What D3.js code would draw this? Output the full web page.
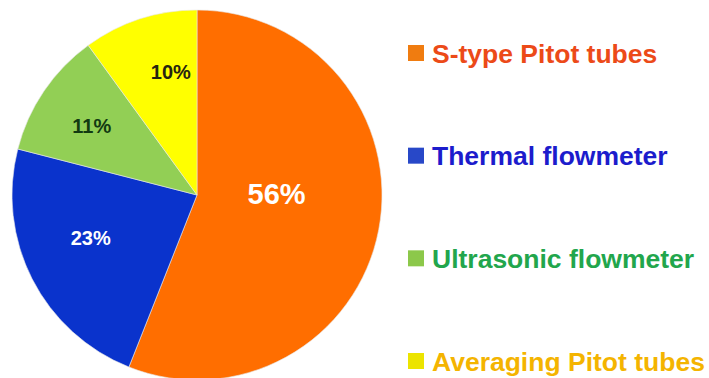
<!DOCTYPE html>
<meta charset="utf-8">
<style>
* { margin: 0; padding: 0; }
body { background: #fff; }
text { font-family: "Liberation Sans", Arial, sans-serif; font-weight: bold; }
</style>
<body>
<script src="https://cdn.jsdelivr.net/npm/d3@7/dist/d3.min.js"></script>
<script>

var categories = ["S-type Pitot tubes", "Thermal flowmeter", "Ultrasonic flowmeter", "Averaging Pitot tubes"];
var values = [56, 23, 11, 10];
var labels = ["56%", "23%", "11%", "10%"];
var sliceColors = ["#ff6e00", "#0a33cc", "#92cf55", "#ffff00"];
var labelColors = ["#fff", "#fff", "#123a12", "#262410"];
var labelSizes = [29, 20, 20, 20];
var legendText = ["#ec4a18", "#1c1ccc", "#22a64c", "#f4b400"];
var legendBox = ["#f07c10", "#2848c8", "#8cc84a", "#ece400"];

var width = 709, height = 378,
    cx = 197, cy = 195, radius = 185;

var svg = d3.select("body").append("svg")
    .attr("width", width)
    .attr("height", height);

var pie = d3.pie().sort(null).value(function(d) { return d; });
var arc = d3.arc().innerRadius(0).outerRadius(radius);

var data = pie(values);

var g = svg.append("g").attr("transform", "translate(" + cx + "," + cy + ")");

g.selectAll("path")
    .data(data)
    .enter().append("path")
    .attr("d", arc)
    .attr("fill", function(d, i) { return sliceColors[i]; })
    .attr("stroke", "#e8e8e8")
    .attr("stroke-width", 0.6);

// label placement: fraction of radius, and a small angle nudge (degrees)
var labelR = [0.43, 0.62, 0.68, 0.68];
var labelNudge = [-12, 5, -1, 6];
g.selectAll("text")
    .data(data)
    .enter().append("text")
    .attr("transform", function(d, i) {
        var a = (d.startAngle + d.endAngle) / 2 + labelNudge[i] * Math.PI / 180;
        var r = radius * labelR[i];
        return "translate(" + (Math.sin(a) * r) + "," + (-Math.cos(a) * r) + ")";
    })
    .attr("text-anchor", "middle")
    .attr("dy", "0.36em")
    .attr("fill", function(d, i) { return labelColors[i]; })
    .attr("font-size", function(d, i) { return labelSizes[i]; })
    .text(function(d, i) { return labels[i]; });

// legend
var legendY = d3.scalePoint().domain(categories).range([53, 361]);

var leg = svg.selectAll(".legend")
    .data(categories)
    .enter().append("g")
    .attr("class", "legend")
    .attr("transform", function(d) { return "translate(408," + legendY(d) + ")"; });

leg.append("rect")
    .attr("x", 0).attr("y", -8)
    .attr("width", 16).attr("height", 16)
    .attr("fill", function(d, i) { return legendBox[i]; });

leg.append("text")
    .attr("x", 24)
    .attr("dy", "0.36em")
    .attr("font-size", 26.5)
    .attr("fill", function(d, i) { return legendText[i]; })
    .text(function(d) { return d; });

</script>
</body>
